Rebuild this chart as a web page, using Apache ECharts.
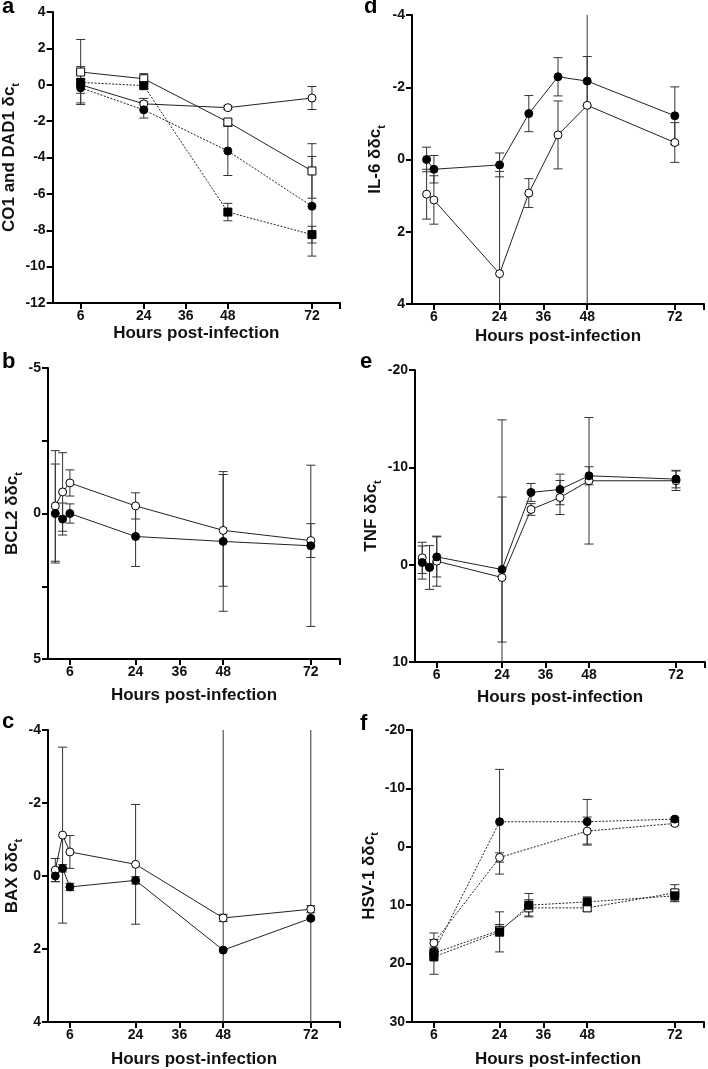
<!DOCTYPE html>
<html><head><meta charset="utf-8">
<script src="https://cdn.jsdelivr.net/npm/echarts@6/dist/echarts.min.js"></script>
<style>html,body{margin:0;padding:0;background:#fff}#c{width:708px;height:1069px}</style>
</head><body><div id="c"></div><script>
// ---------- DATA ----------
const xLabelHours = [6, 24, 36, 48, 72];
const xTickHours = [6, 24, 36, 48, 72, 80];

// panel a: CO1 and DAD1
const aHours = [6, 24, 48, 72];
const aOpenCircle = [0.0, -1.05, -1.26, -0.73];
const aOpenCircleErr = [1.0, 0.3, 0.1, 0.63];
const aOpenSquare = [0.70, 0.33, -2.05, -4.74];
const aOpenSquareErr = [1.79, 0.28, 0.15, 1.5];
const aFilledCircle = [-0.17, -1.38, -3.64, -6.68];
const aFilledCircleErr = [0.3, 0.45, 1.35, 2.74];
const aFilledSquare = [0.13, -0.05, -7.0, -8.24];
const aFilledSquareErr = [0.2, 0.15, 0.48, 0.46];
const aTicks = [-12, -10, -8, -6, -4, -2, 0, 2, 4];

// panel b: BCL2
const bHours = [2, 4, 6, 24, 48, 72];
const bOpen = [-0.26, -0.74, -1.05, -0.26, 0.58, 0.93];
const bOpenErr = [1.9, 1.35, 0.45, 0.45, 1.92, 0.58];
const bFilled = [0.0, 0.19, 0.0, 0.79, 0.96, 1.11];
const bFilledErr = [1.7, 0.55, 0.33, 1.03, 2.4, 2.77];
const bTicks = [-5, -2.5, 0, 2.5, 5];
const bLabels = [-5, 0, 5];

// panel c: BAX
const cHours = [2, 4, 6, 24, 48, 72];
const cOpen = [-0.16, -1.12, -0.66, -0.32, 1.15, 0.91];
const cOpenErr = [0.32, 2.41, 0.45, 1.64, 0.1, 0.1];
const cFilled = [0.0, -0.21, 0.30, 0.12, 2.03, 1.16];
const cFilledErr = [0.15, 0.1, 0.1, 0.1, 7, 6];
const cTicks = [-4, -2, 0, 2, 4];

// panel d: IL-6
const dHours = [4, 6, 24, 32, 40, 48, 72];
const dFilled = [0.0, 0.27, 0.15, -1.27, -2.29, -2.17, -1.21];
const dFilledErr = [0.34, 0.38, 0.33, 0.5, 0.53, 0.68, 0.8];
const dOpen = [0.96, 1.12, 3.16, 0.93, -0.68, -1.50, -0.47];
const dOpenErr = [0.69, 0.67, 2.83, 0.4, 0.94, 6, 0.55];
const dTicks = [-4, -2, 0, 2, 4];

// panel e: TNF
const eFilledHours = [2, 4, 6, 24, 32, 40, 48, 72];
const eFilled = [-0.22, 0.29, -0.80, 0.50, -7.42, -7.73, -9.13, -8.79];
const eFilledErr = [1.7, 2.25, 2.06, 7.45, 0.92, 1.57, 0.93, 0.9];
const eOpenHours = [2, 4, 6, 24, 32, 40, 48, 72];
const eOpen = [-0.70, 0.25, -0.36, 1.32, -5.67, -6.90, -8.62, -8.62];
const eOpenErr = [1.6, 0.1, 2.57, 16.2, 0.6, 1.75, 6.5, 1.0];
const eTicks = [-20, -10, 0, 10];

// panel f: HSV-1
const fCircleHours = [6, 24, 48, 72];
const fFilledCircle = [18.0, -4.29, -4.29, -4.74];
const fFilledCircleErr = [0.5, 8.97, 3.82, 0.3];
const fOpenCircle = [16.46, 1.83, -2.69, -4.0];
const fOpenCircleErr = [1.7, 0.8, 2.4, 0.3];
const fSquareHours = [6, 24, 32, 48, 72];
const fFilledSquare = [18.86, 14.57, 10.0, 9.43, 8.4];
const fFilledSquareErr = [2.97, 3.43, 2.0, 0.86, 1.0];
const fOpenSquare = [18.2, 14.3, 10.46, 10.46, 7.89];
const fOpenSquareErr = [1.0, 1.0, 1.4, 0.6, 1.4];
const fTicks = [-20, -10, 0, 10, 20, 30];

// ---------- CHART ----------
const FONT = '"Liberation Sans", Arial, Helvetica, sans-serif';
const chart = echarts.init(document.getElementById('c'), null, {renderer: 'canvas'});

const grids = [
  {left: 48, top: 12, width: 292, height: 291},   // a
  {left: 48, top: 368, width: 292, height: 291},  // b
  {left: 48, top: 730, width: 292, height: 292},  // c
  {left: 412, top: 15, width: 292, height: 289},  // d
  {left: 415, top: 370, width: 290, height: 292}, // e
  {left: 412, top: 730, width: 292, height: 292}  // f
];
const xNameGaps = [22, 28, 28.5, 24, 27, 29];
const xMins = [-2, 0, 0, 0, 0, 0];

const xAxes = grids.map((g, i) => ({
  type: 'value', gridIndex: i, min: xMins[i], max: 80,
  name: 'Hours post-infection', nameLocation: 'middle', nameGap: xNameGaps[i],
  nameTextStyle: {fontFamily: FONT, fontWeight: 'bold', fontSize: 17, color: '#111'},
  axisLine: {show: true, onZero: false, lineStyle: {color: '#000', width: 2}},
  axisTick: {show: true, length: 6, lineStyle: {color: '#000', width: 2}, customValues: xTickHours},
  axisLabel: {fontFamily: FONT, fontWeight: 'bold', fontSize: 14, color: '#111', margin: 6, customValues: xLabelHours},
  splitLine: {show: false}
}));

function yAxis(i, min, max, ticks, labels, inverse, name, gap) {
  return {
    type: 'value', gridIndex: i, min: min, max: max, inverse: inverse,
    name: name, nameLocation: 'middle', nameGap: gap,
    nameTextStyle: {
      fontFamily: FONT, fontWeight: 'bold', fontSize: 17, color: '#111',
      rich: {
        m: {fontFamily: FONT, fontWeight: 'bold', fontSize: 17, color: '#111', lineHeight: 24},
        s: {fontFamily: FONT, fontWeight: 'bold', fontSize: 11, color: '#111', lineHeight: 11, verticalAlign: 'bottom'}
      }
    },
    axisLine: {show: true, onZero: false, lineStyle: {color: '#000', width: 2}},
    axisTick: {show: true, length: 6, lineStyle: {color: '#000', width: 2}, customValues: ticks},
    axisLabel: {fontFamily: FONT, fontWeight: 'bold', fontSize: 14, color: '#111', margin: 7, customValues: labels},
    splitLine: {show: false}
  };
}

const yAxes = [
  yAxis(0, -12, 4, aTicks, aTicks, false, '{m|CO1 and DAD1 δc}{s|t}', 26),
  yAxis(1, -5, 5, bTicks, bLabels, true, '{m|BCL2 δδc}{s|t}', 22),
  yAxis(2, -4, 4, cTicks, cTicks, true, '{m|BAX δδc}{s|t}', 21),
  yAxis(3, -4, 4, dTicks, dTicks, true, '{m|IL-6 δδc}{s|t}', 25),
  yAxis(4, -20, 10, eTicks, eTicks, true, '{m|TNF δδc}{s|t}', 32),
  yAxis(5, -20, 30, fTicks, fTicks, true, '{m|HSV-1 δδc}{s|t}', 30)
];

function lineS(gi, xs, ys, symbol, filled, dotted) {
  return {
    type: 'line', xAxisIndex: gi, yAxisIndex: gi,
    data: xs.map((x, k) => [x, ys[k]]),
    symbol: symbol, symbolSize: 8, showAllSymbol: true, z: filled ? 5 : 4,
    itemStyle: {color: filled ? '#000' : '#fff', borderColor: '#000', borderWidth: 1},
    lineStyle: {color: '#222', width: 1, type: dotted ? [2, 1.5] : 'solid'},
    emphasis: {disabled: true}, animation: false
  };
}

function errS(gi, xs, ys, es) {
  return {
    type: 'custom', xAxisIndex: gi, yAxisIndex: gi, clip: true, z: 2, silent: true, animation: false,
    data: xs.map((x, k) => [x, ys[k] - es[k], ys[k] + es[k]]),
    encode: {x: 0, y: [1, 2]},
    renderItem: function (params, api) {
      const lo = api.coord([api.value(0), api.value(1)]);
      const hi = api.coord([api.value(0), api.value(2)]);
      const w = 4.5;
      const st = {stroke: '#333', lineWidth: 1};
      return {type: 'group', children: [
        {type: 'line', shape: {x1: lo[0], y1: lo[1], x2: hi[0], y2: hi[1]}, style: st},
        {type: 'line', shape: {x1: lo[0] - w, y1: lo[1], x2: lo[0] + w, y2: lo[1]}, style: st},
        {type: 'line', shape: {x1: hi[0] - w, y1: hi[1], x2: hi[0] + w, y2: hi[1]}, style: st}
      ]};
    }
  };
}

const series = [
  // a
  errS(0, aHours, aOpenSquare, aOpenSquareErr),
  errS(0, aHours, aOpenCircle, aOpenCircleErr),
  errS(0, aHours, aFilledCircle, aFilledCircleErr),
  errS(0, aHours, aFilledSquare, aFilledSquareErr),
  lineS(0, aHours, aOpenCircle, 'circle', false, false),
  lineS(0, aHours, aOpenSquare, 'rect', false, false),
  lineS(0, aHours, aFilledCircle, 'circle', true, true),
  lineS(0, aHours, aFilledSquare, 'rect', true, true),
  // b
  errS(1, bHours, bOpen, bOpenErr),
  errS(1, bHours, bFilled, bFilledErr),
  lineS(1, bHours, bOpen, 'circle', false, false),
  lineS(1, bHours, bFilled, 'circle', true, false),
  // c
  errS(2, cHours, cOpen, cOpenErr),
  errS(2, cHours, cFilled, cFilledErr),
  lineS(2, cHours, cOpen, 'circle', false, false),
  lineS(2, cHours, cFilled, 'circle', true, false),
  // d
  errS(3, dHours, dOpen, dOpenErr),
  errS(3, dHours, dFilled, dFilledErr),
  lineS(3, dHours, dOpen, 'circle', false, false),
  lineS(3, dHours, dFilled, 'circle', true, false),
  // e
  errS(4, eOpenHours, eOpen, eOpenErr),
  errS(4, eFilledHours, eFilled, eFilledErr),
  lineS(4, eOpenHours, eOpen, 'circle', false, false),
  lineS(4, eFilledHours, eFilled, 'circle', true, false),
  // f
  errS(5, fCircleHours, fFilledCircle, fFilledCircleErr),
  errS(5, fCircleHours, fOpenCircle, fOpenCircleErr),
  errS(5, fSquareHours, fFilledSquare, fFilledSquareErr),
  errS(5, fSquareHours, fOpenSquare, fOpenSquareErr),
  lineS(5, fCircleHours, fOpenCircle, 'circle', false, true),
  lineS(5, fCircleHours, fFilledCircle, 'circle', true, true),
  lineS(5, fSquareHours, fOpenSquare, 'rect', false, true),
  lineS(5, fSquareHours, fFilledSquare, 'rect', true, true)
];

const panelLetters = [
  {t: 'a', x: 2, y: 13}, {t: 'b', x: 2, y: 368}, {t: 'c', x: 2, y: 728},
  {t: 'd', x: 364, y: 13}, {t: 'e', x: 360, y: 368}, {t: 'f', x: 360, y: 730}
];

chart.setOption({
  animation: false,
  backgroundColor: '#fff',
  grid: grids,
  xAxis: xAxes,
  yAxis: yAxes,
  series: series,
  graphic: panelLetters.map(p => ({
    type: 'text', left: p.x, top: p.y - 17, silent: true,
    style: {text: p.t, font: 'bold 22px ' + FONT, fill: '#000'}
  }))
});
</script></body></html>
